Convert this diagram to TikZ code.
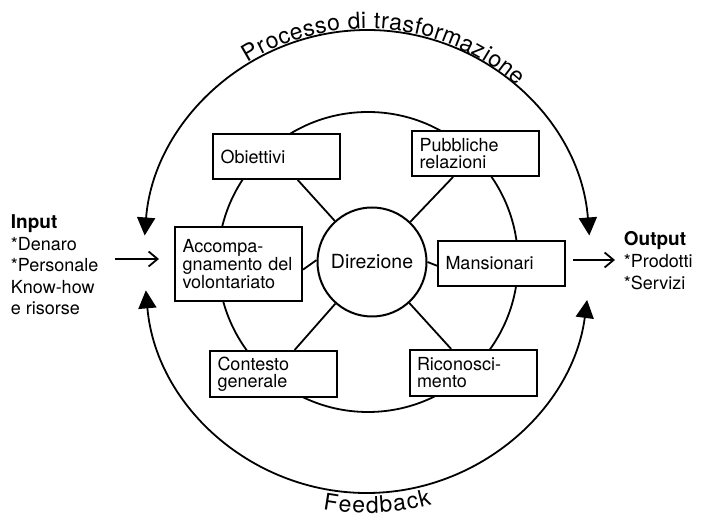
\documentclass[tikz,border=0pt]{standalone}
\usepackage{fontspec}
\setmainfont{TeX Gyre Heros}
\usetikzlibrary{positioning,arrows.meta,decorations.text}
\tikzset{
  casella/.style={draw, line width=2pt, fill=white, minimum height=45pt,
    text width=112pt, inner xsep=7.5pt, inner ysep=0pt, align=left,
    font=\fontsize{18}{17}\selectfont},
  elenco/.style={inner sep=0pt, anchor=north west, align=left,
    font=\fontsize{18}{21.5}\selectfont},
  ciclo/.style={line width=1.8pt,
    {Triangle[length=18pt,width=18pt]}-{Triangle[length=18pt,width=18pt]}},
  freccia/.style={line width=1.8pt, -{Straight Barb[length=9pt,width=15pt]}},
}

\begin{document}
\begin{tikzpicture}[x=1pt, y=1pt, line width=1.8pt]
  \useasboundingbox (0,0) rectangle (702,516);

  \draw (368,254) circle (150);

  \node[circle, draw, line width=2pt, minimum size=109pt,
    font=\fontsize{19.5}{20}\selectfont] (direzione) at (372,254) {Direzione};

  \node[casella] (obiettivi) at (276.5,359.5) {Obiettivi};
  \node[casella] (pubbliche) at (475.5,362.5) {Pubbliche\\relazioni};
  \node[casella, minimum height=74pt] (accompagnamento) at (238.5,252)
    {Accompa-\\gnamento del\\volontariato};
  \node[casella] (mansionari) at (501.5,252.5) {Mansionari};
  \node[casella, minimum height=46pt] (contesto) at (273.5,142) {Contesto\\generale};
  \node[casella, minimum height=46pt] (riconoscimento) at (473,143) {Riconosci-\\mento};

  \draw (direzione) -- (obiettivi);
  \draw (direzione) -- (pubbliche);
  \draw (direzione.178) -- (accompagnamento.-5);
  \draw (direzione.0) -- (mansionari.182);
  \draw (direzione) -- (contesto);
  \draw (direzione) -- (riconoscimento);

  \node[elenco] (input) at (10,302)
    {{\bfseries\fontsize{19}{21.5}\selectfont Input}\\*Denaro\\*Personale\\Know-how\\e risorse};
  \node[elenco, font=\fontsize{18}{22}\selectfont] (output) at (623,285)
    {{\bfseries\fontsize{19}{22}\selectfont Output}\\*Prodotti\\*Servizi};

  \coordinate (entrata) at (115,257);
  \coordinate (verso) at (159,257);
  \coordinate (uscita) at (573,256);
  \coordinate (oltre) at (615,256);
  \draw[freccia] (entrata) -- (verso);
  \draw[freccia] (uscita) -- (oltre);

  % trasformazione sopra, feedback sotto
  \draw[ciclo] (367,263) ++(4.5:223) arc (4.5:175.5:223);
  \draw[ciclo] (367,245) ++(-175:222) arc (-175:-7.5:222);

  \path[decorate, decoration={text along path, text align=fit to path,
      text={|\fontsize{23}{23}\selectfont|Processo di trasformazione}}]
    (367,263) ++(122:224.5) arc (122:48:224.5);
  \path[decorate, decoration={text along path, text align=fit to path,
      text={|\fontsize{23}{23}\selectfont|Feedback}}]
    (367,245) ++(-100.5:242) arc (-100.5:-74.5:242);
\end{tikzpicture}
\end{document}
